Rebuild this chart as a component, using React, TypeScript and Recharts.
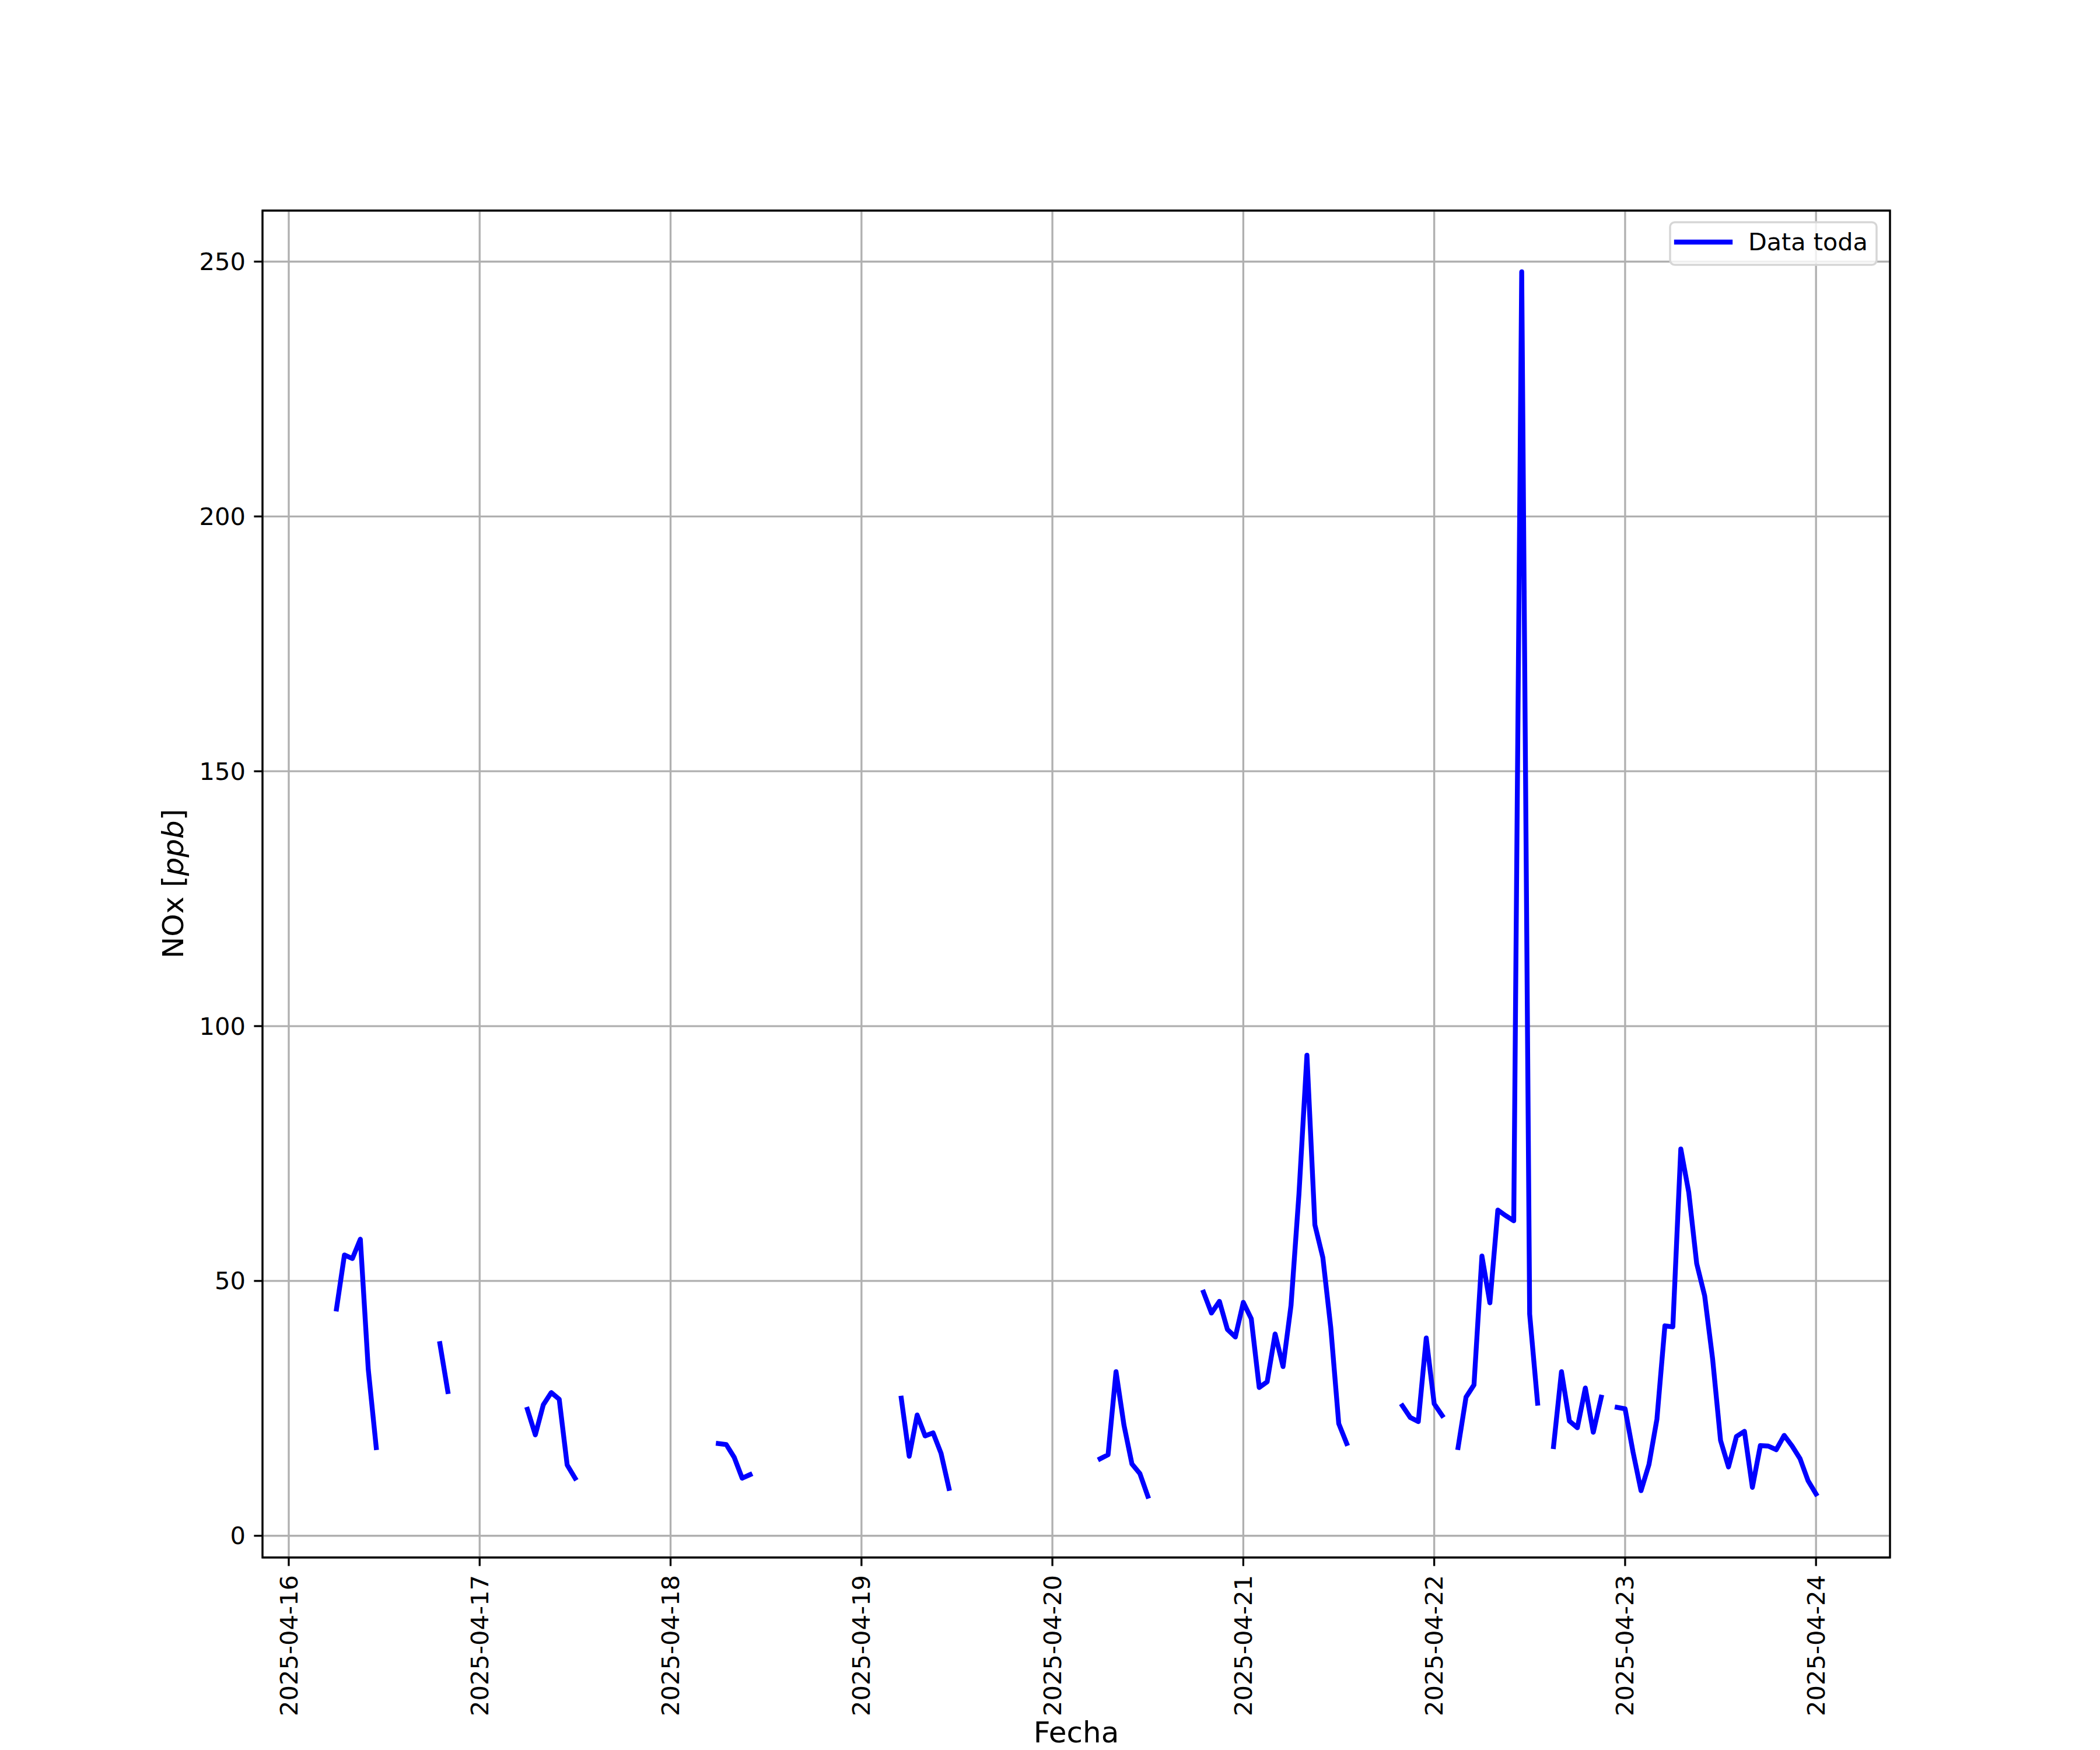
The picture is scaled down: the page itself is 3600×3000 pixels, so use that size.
import React from 'react';
import { LineChart, Line, XAxis, YAxis, CartesianGrid, ReferenceArea, Legend } from 'recharts';

// NOx hourly readings (ppb), gaps in the record are missing hours
const dayLabels = [
  '2025-04-16', '2025-04-17', '2025-04-18', '2025-04-19', '2025-04-20',
  '2025-04-21', '2025-04-22', '2025-04-23', '2025-04-24',
];
const yTicks = [0, 50, 100, 150, 200, 250];

// first hour of each run, counted from 2025-04-16 00:00
const segmentStarts = [6, 19, 30, 54, 77, 102, 115, 140, 147, 159, 167];
const segmentValues = [
  [44.5, 55.1, 54.4, 58.2, 32.6, 17.3],
  [37.7, 28.3],
  [24.8, 19.8, 25.7, 28.1, 26.8, 13.9, 11.3],
  [18.1, 17.9, 15.4, 11.3, 12.0],
  [27.0, 15.6, 23.7, 19.6, 20.2, 16.2, 9.3],
  [15.1, 15.9, 32.2, 21.7, 14.1, 12.2, 7.75],
  [47.8, 43.7, 46.0, 40.5, 39.0, 45.8, 42.6, 29.1, 30.2, 39.6, 33.2, 45.2, 67.1, 94.3, 61.0, 54.6, 40.8, 22.0, 18.1],
  [25.5, 23.2, 22.4, 38.8, 25.9, 23.6],
  [17.3, 27.2, 29.6, 54.9, 45.7, 63.9, 62.8, 61.8, 248.0, 43.5, 26.0],
  [17.5, 32.2, 22.5, 21.2, 29.0, 20.3, 27.2],
  [25.2, 24.9, 16.4, 8.85, 14.0, 22.9, 41.2, 41.0, 75.9, 67.4, 53.4, 47.1, 34.7, 18.7, 13.5, 19.5, 20.5, 9.5, 17.7, 17.6, 16.9, 19.7, 17.6, 15.1, 10.8, 8.2],
];

const firstHour = 6;
const lastHour = 192;

const hourly: Record<number, number> = {};
segmentStarts.forEach((s, i) => {
  segmentValues[i].forEach((v, j) => {
    hourly[s + j] = v;
  });
});
const rows: { h: number; nox: number | null }[] = [];
for (let h = firstHour; h <= lastHour; h++) {
  rows.push({ h, nox: hourly[h] ?? null });
}

const allVals = segmentValues.flat();
const vMin = Math.min(...allVals);
const vMax = Math.max(...allVals);
const xPad = (lastHour - firstHour) * 0.05;
const yPad = (vMax - vMin) * 0.05;
const xDomain: [number, number] = [firstHour - xPad, lastHour + xPad];
const yDomain: [number, number] = [vMin - yPad, vMax + yPad];

const FONT = '"DejaVu Sans", sans-serif';
const LW = 3.33;

const XTick = (props: any) => {
  const { x, payload } = props;
  const y = 2700;
  return (
    <text
      x={x}
      y={y}
      transform={`rotate(-90, ${x}, ${y})`}
      textAnchor="end"
      dominantBaseline="central"
      fontFamily={FONT}
      fontSize={41.67}
      fill="#000"
    >
      {dayLabels[Math.round(payload.value / 24)]}
    </text>
  );
};

const YTick = (props: any) => {
  const { y, payload } = props;
  return (
    <text x={421} y={y} textAnchor="end" dominantBaseline="central" fontFamily={FONT} fontSize={41.67} fill="#000">
      {payload.value}
    </text>
  );
};

const LegendBox = () => (
  <svg width={360} height={78} style={{ display: 'block' }}>
    <rect x={2} y={2} width={354} height={73} rx={8} ry={8} fill="#ffffff" fillOpacity={0.8} stroke="#d6d6d6" strokeWidth={3.5} />
    <line x1={13} y1={36} x2={105} y2={36} stroke="#0000ff" strokeWidth={8.33} strokeLinecap="square" />
    <text x={136} y={36} dominantBaseline="central" fontFamily={FONT} fontSize={41.3} fill="#000">
      Data toda
    </text>
  </svg>
);

export default function App() {
  return (
    <div style={{ position: 'absolute', left: 0, top: 0, width: 3600, height: 3000, background: '#fff' }}>
      <LineChart width={3600} height={3000} data={rows} margin={{ top: 361, right: 360, bottom: 0, left: 0 }}>
        <CartesianGrid stroke="#b0b0b0" strokeWidth={LW} />
        <XAxis
          dataKey="h"
          type="number"
          domain={xDomain}
          ticks={dayLabels.map((_, i) => i * 24)}
          allowDataOverflow
          height={330}
          axisLine={false}
          tickLine={{ stroke: '#000', strokeWidth: LW }}
          tickSize={14.6}
          tick={<XTick />}
          interval={0}
          label={(p: any) => (
            <text x={1845} y={2987} textAnchor="middle" fontFamily={FONT} fontSize={50} fill="#000">
              Fecha
            </text>
          )}
        />
        <YAxis
          type="number"
          domain={yDomain}
          ticks={yTicks}
          allowDataOverflow
          width={450}
          axisLine={false}
          tickLine={{ stroke: '#000', strokeWidth: LW }}
          tickSize={14.6}
          tick={<YTick />}
          interval={0}
          label={(p: any) => (
            <text
              x={297}
              y={1515}
              transform="rotate(-90, 297, 1515)"
              textAnchor="middle"
              dominantBaseline="central"
              fontFamily={FONT}
              fontSize={50}
              fill="#000"
            >
              NOx [<tspan fontStyle="italic">ppb</tspan>]
            </text>
          )}
        />
        <Line
          type="linear"
          dataKey="nox"
          name="Data toda"
          stroke="#0000ff"
          strokeWidth={8.33}
          strokeLinecap="square"
          strokeLinejoin="round"
          dot={false}
          activeDot={false}
          connectNulls={false}
          isAnimationActive={false}
        />
        <ReferenceArea
          x1={xDomain[0]}
          x2={xDomain[1]}
          y1={yDomain[0]}
          y2={yDomain[1]}
          fill="none"
          stroke="#000"
          strokeWidth={LW}
          ifOverflow="visible"
        />
        <Legend
          layout="vertical"
          align="center"
          verticalAlign="middle"
          content={<LegendBox />}
          wrapperStyle={{ left: 2861, top: 379, width: 360, height: 78 }}
        />
      </LineChart>
    </div>
  );
}
